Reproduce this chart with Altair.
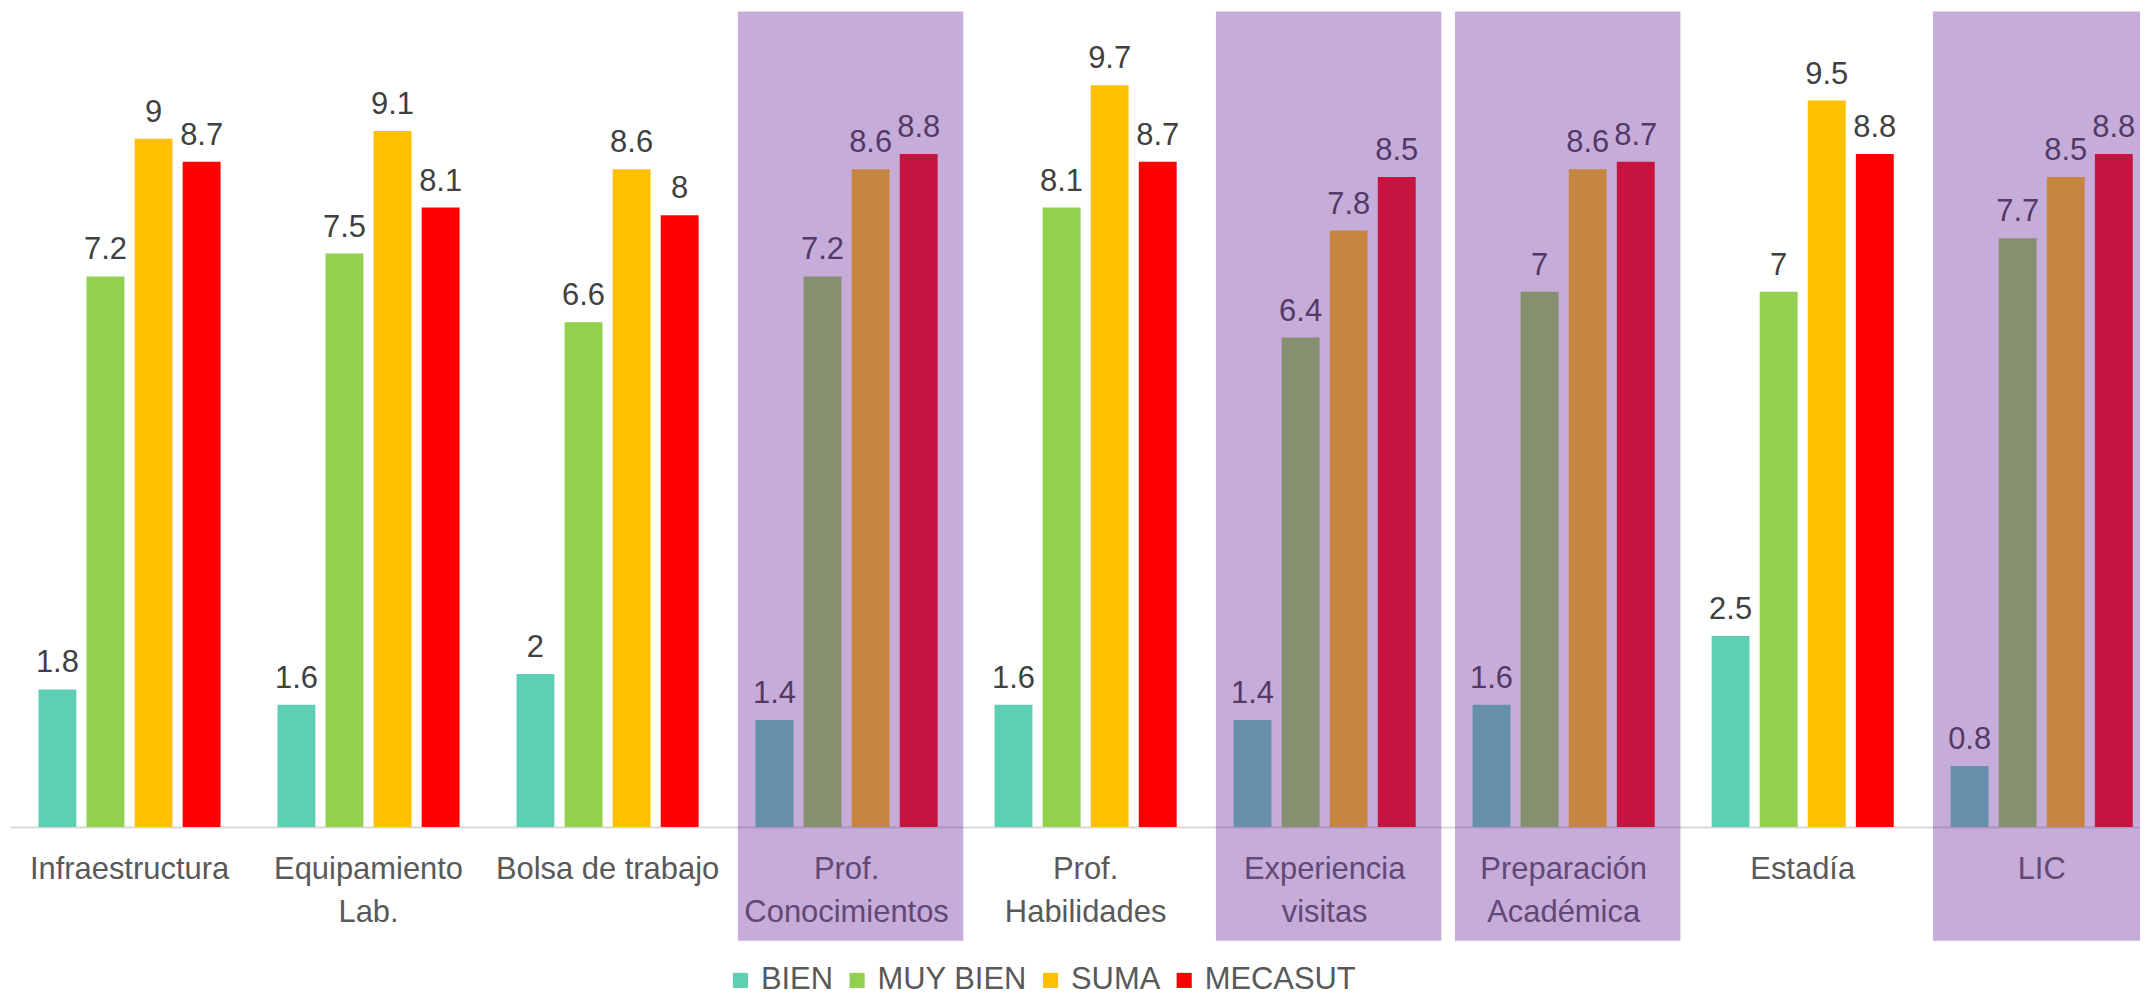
import altair as alt
import pandas as pd

categories = ["Infraestructura", "Equipamiento\nLab.", "Bolsa de trabajo",
              "Prof.\nConocimientos", "Prof.\nHabilidades", "Experiencia\nvisitas",
              "Preparación\nAcadémica", "Estadía", "LIC"]
series = ["BIEN", "MUY BIEN", "SUMA", "MECASUT"]
bien = [1.8, 1.6, 2, 1.4, 1.6, 1.4, 1.6, 2.5, 0.8]
muy_bien = [7.2, 7.5, 6.6, 7.2, 8.1, 6.4, 7, 7, 7.7]
suma = [9, 9.1, 8.6, 8.6, 9.7, 7.8, 8.6, 9.5, 8.5]
mecasut = [8.7, 8.1, 8, 8.8, 8.7, 8.5, 8.7, 8.8, 8.8]
highlighted = ["Prof.\nConocimientos", "Experiencia\nvisitas", "Preparación\nAcadémica", "LIC"]
colors = ["#5ECFB2", "#92D050", "#FFC000", "#FF0000"]

rows = []
for s, vals in zip(series, [bien, muy_bien, suma, mecasut]):
    for c, v in zip(categories, vals):
        rows.append({"cat": c, "serie": s, "valor": v})
df = pd.DataFrame(rows)
hl = pd.DataFrame({"cat": highlighted})

FONT = "Liberation Sans, Arial, sans-serif"
H = 818
XRANGE = 2157.3

xenc = alt.X("cat:N", sort=categories, title=None,
             scale=alt.Scale(range=[0, XRANGE], paddingInner=0, paddingOuter=0),
             axis=alt.Axis(labelAngle=0, ticks=False, domainColor="#d9d9d9", domainWidth=2,
                           labelFontSize=31, labelColor="#595959", labelFont=FONT,
                           labelPadding=28, labelLineHeight=43, labelLimit=500,
                           labelOverlap=False, labelBound=False,
                           labelExpr="split(datum.label, '\\n')"))
xoff = alt.XOffset("serie:N", sort=series,
                   scale=alt.Scale(paddingInner=0.2116, paddingOuter=0.592))
yenc = alt.Y("valor:Q", scale=alt.Scale(domain=[0, 10.665], nice=False, zero=True), axis=None)

bars = alt.Chart(df).mark_bar().encode(
    x=xenc, xOffset=xoff, y=yenc,
    color=alt.Color("serie:N", sort=series,
                    scale=alt.Scale(domain=series, range=colors),
                    legend=alt.Legend(title=None, orient="none", direction="horizontal",
                                      legendX=717, legendY=956, symbolType="square",
                                      symbolSize=230, symbolStrokeWidth=0,
                                      labelFontSize=31, labelFont=FONT, labelColor="#595959",
                                      labelOffset=5, columnPadding=8, labelLimit=400)),
)

labels = alt.Chart(df).mark_text(baseline="alphabetic", dy=-17, fontSize=31,
                                 font=FONT, color="#404040").encode(
    x=alt.X("cat:N", sort=categories), xOffset=xoff, y=yenc,
    text=alt.Text("valor:Q"),
)

overlay = alt.Chart(hl).mark_bar(color="#7030A0", opacity=0.4, xOffset=4,
                                 width=alt.RelativeBandSize(0.943)).encode(
    x=alt.X("cat:N", sort=categories),
    y=alt.value(0), y2=alt.value(H + 114),
)

chart = alt.layer(bars, labels, overlay).properties(
    width=2136, height=H,
    padding={"left": 2, "top": 2, "right": 0, "bottom": 170},
    autosize=alt.AutoSizeParams(type="none"),
).configure_view(stroke=None)

chart.save("out.html", embed_options={"renderer": "svg", "actions": False})
